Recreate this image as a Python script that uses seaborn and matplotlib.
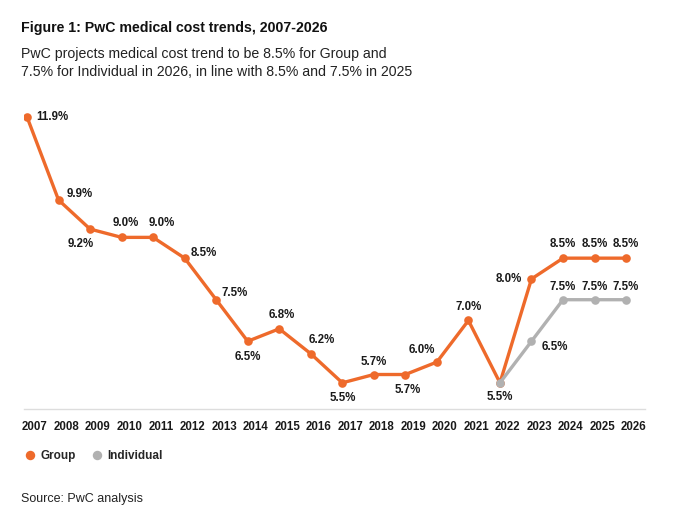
import pandas as pd
import seaborn as sns
import matplotlib.pyplot as plt
from matplotlib.lines import Line2D

# data
years = list(range(2007, 2027))
group = [11.9, 9.9, 9.2, 9.0, 9.0, 8.5, 7.5, 6.5, 6.8, 6.2,
         5.5, 5.7, 5.7, 6.0, 7.0, 5.5, 8.0, 8.5, 8.5, 8.5]
indiv_years = [2022, 2023, 2024, 2025, 2026]
individual = [5.5, 6.5, 7.5, 7.5, 7.5]

orange = '#EE6A2B'
grey = '#B1B1B1'

df = pd.concat([
    pd.DataFrame({'year': years, 'value': group, 'series': 'Group'}),
    pd.DataFrame({'year': indiv_years, 'value': individual, 'series': 'Individual'}),
])

sns.set_theme(style='white')
plt.rcParams['font.family'] = ['Liberation Sans', 'DejaVu Sans']

fig = plt.figure(figsize=(6.8, 5.16), dpi=100)
ax = fig.add_axes([24 / 680, 1 - 409 / 516, 621 / 680, 304.6 / 516])

sns.lineplot(data=df, x='year', y='value', hue='series',
             palette={'Group': orange, 'Individual': grey},
             marker='o', markersize=6.2, markeredgewidth=0, linewidth=2.4,
             legend=False, ax=ax)

ax.set_xlim(2006.905, 2026.6)
ax.set_ylim(4.87, 12.2)

# label placement (offset in points, alignment) for each Group point
g_pos = [(7, 0, 'left'), (6, 4, 'left'), (-7, -11, 'center'), (3, 10, 'center'),
         (6, 10, 'center'), (4, 4, 'left'), (4, 5, 'left'), (0, -11, 'center'),
         (2, 10, 'center'), (8, 10, 'center'), (0, -11, 'center'), (0, 9, 'center'),
         (2, -11, 'center'), (-11, 9, 'center'), (0, 10, 'center'), (0, -10, 'center'),
         (-7, 0, 'right'), (0, 10, 'center'), (0, 10, 'center'), (0, 10, 'center')]
i_pos = [None, (7, -4, 'left'), (0, 9, 'center'), (0, 9, 'center'), (0, 9, 'center')]

for x, v, p in zip(years, group, g_pos):
    ax.annotate(f'{v:.1f}%', (x, v), xytext=(p[0], p[1]), textcoords='offset points',
                ha=p[2], va='center', fontsize=8.3, fontweight='bold', color='#1a1a1a')
for x, v, p in zip(indiv_years, individual, i_pos):
    if p is None:
        continue
    ax.annotate(f'{v:.1f}%', (x, v), xytext=(p[0], p[1]), textcoords='offset points',
                ha=p[2], va='center', fontsize=8.3, fontweight='bold', color='#1a1a1a')

# year labels sit a little right of the points in the original
tick_shift = 0.25
ax.set_xticks([y + tick_shift for y in years])
ax.set_xticklabels([str(y) for y in years], fontsize=8.3, fontweight='bold', color='#1a1a1a')
ax.set_yticks([])
ax.set_xlabel('')
ax.set_ylabel('')
ax.tick_params(axis='x', length=0, pad=9)
for s in ['top', 'right', 'left']:
    ax.spines[s].set_visible(False)
ax.spines['bottom'].set_color('#DDDDDD')
ax.spines['bottom'].set_linewidth(1)

fig.text(21 / 680, 1 - 28 / 516, 'Figure 1: PwC medical cost trends, 2007-2026',
         fontsize=10.2, fontweight='bold', va='center', color='#111111')
fig.text(21 / 680, 1 - 54 / 516, 'PwC projects medical cost trend to be 8.5% for Group and',
         fontsize=10.2, va='center', color='#222222')
fig.text(21 / 680, 1 - 72 / 516, '7.5% for Individual in 2026, in line with 8.5% and 7.5% in 2025',
         fontsize=10.2, va='center', color='#222222')
fig.text(21 / 680, 1 - 499 / 516, 'Source: PwC analysis', fontsize=9, va='center', color='#222222')

handles = [Line2D([], [], marker='o', ls='', color=orange, markersize=6.8, markeredgewidth=0),
           Line2D([], [], marker='o', ls='', color=grey, markersize=6.8, markeredgewidth=0)]
fig.legend(handles, ['Group', 'Individual'], loc='center left',
           bbox_to_anchor=(18 / 680, 1 - 456 / 516), ncol=2, frameon=False,
           handlelength=1.0, handletextpad=0.4, columnspacing=1.3, borderpad=0,
           prop={'size': 8.5, 'weight': 'bold'})

fig.savefig('out.png', dpi=100)
